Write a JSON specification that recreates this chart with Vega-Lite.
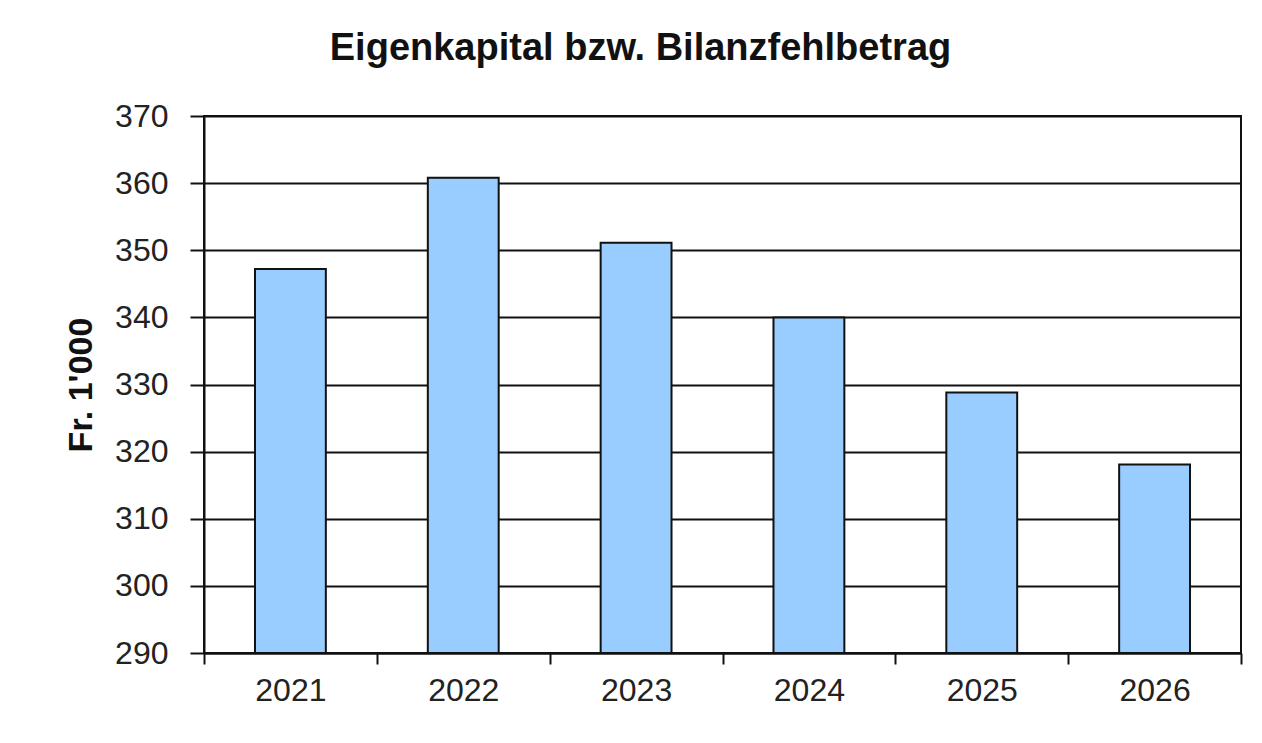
{
  "$schema": "https://vega.github.io/schema/vega-lite/v6.json",
  "autosize": {"type": "none"},
  "width": 1037,
  "height": 537,
  "padding": {"left": 204, "top": 116, "right": 21, "bottom": 90},
  "background": "white",
  "title": {
    "text": "Eigenkapital bzw. Bilanzfehlbetrag",
    "font": "Liberation Sans",
    "fontSize": 38,
    "fontWeight": "bold",
    "color": "#111111",
    "anchor": "middle",
    "baseline": "alphabetic",
    "offset": 2,
    "dx": -82
  },
  "data": {
    "values": [
      {"Jahr": "2021", "Wert": 347.2},
      {"Jahr": "2022", "Wert": 360.8},
      {"Jahr": "2023", "Wert": 351.1},
      {"Jahr": "2024", "Wert": 340.0},
      {"Jahr": "2025", "Wert": 328.8},
      {"Jahr": "2026", "Wert": 318.1}
    ]
  },
  "mark": {"type": "bar", "fill": "#99CCFF", "stroke": "#111111", "strokeWidth": 2, "width": {"band": 0.41}},
  "encoding": {
    "x": {
      "field": "Jahr",
      "type": "ordinal",
      "scale": {"paddingInner": 0, "paddingOuter": 0},
      "axis": {
        "title": null,
        "labelAngle": 0,
        "tickBand": "extent",
        "tickSize": 11,
        "tickWidth": 2,
        "tickColor": "#111111",
        "domainColor": "#111111",
        "domainWidth": 2,
        "labelPadding": 11,
        "labelFont": "Liberation Sans",
        "labelFontSize": 32,
        "labelColor": "#222222"
      }
    },
    "y": {
      "field": "Wert",
      "type": "quantitative",
      "scale": {"domain": [290, 370], "nice": false, "zero": false},
      "axis": {
        "title": "Fr. 1'000",
        "titleFont": "Liberation Sans",
        "titleFontSize": 34,
        "titleFontWeight": "bold",
        "titleColor": "#111111",
        "titlePadding": 16,
        "values": [290, 300, 310, 320, 330, 340, 350, 360, 370],
        "grid": true,
        "gridColor": "#111111",
        "gridWidth": 2,
        "gridOpacity": 1,
        "tickSize": 14,
        "tickWidth": 2,
        "tickColor": "#111111",
        "domainColor": "#111111",
        "domainWidth": 2,
        "labelPadding": 22,
        "labelFont": "Liberation Sans",
        "labelFontSize": 32,
        "labelColor": "#222222"
      }
    },
    "y2": {"datum": 290}
  },
  "config": {
    "view": {"stroke": "#111111", "strokeWidth": 2}
  }
}
